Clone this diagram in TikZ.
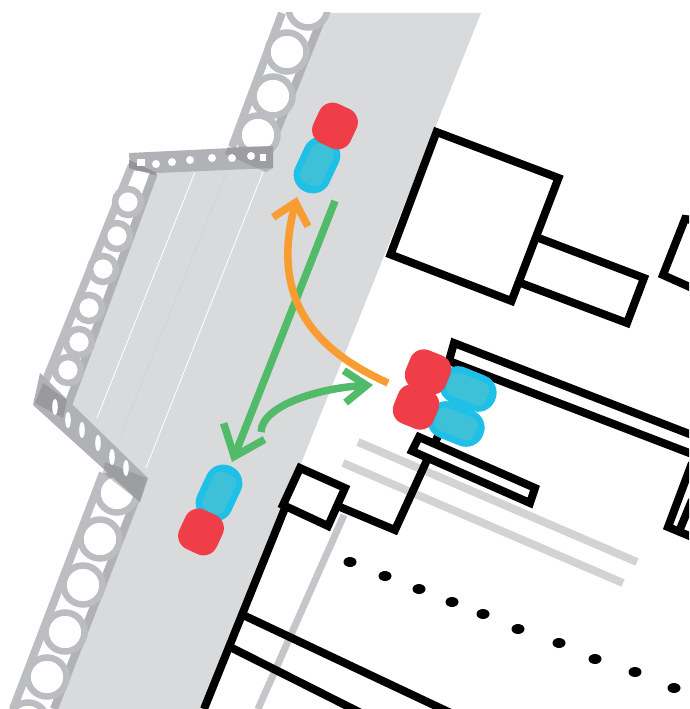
\documentclass[tikz,border=0pt]{standalone}
\usepackage{xcolor}
\usetikzlibrary{arrows.meta}
\usetikzlibrary{shapes.geometric}
\definecolor{roadgrey}{HTML}{D9DADC}
\definecolor{railgrey}{HTML}{BBBDC1}
\definecolor{raildark}{HTML}{B0B2B6}
\definecolor{cornergrey}{HTML}{85878B}
\definecolor{markgrey}{HTML}{D1D3D4}
\definecolor{pathgrey}{HTML}{C5C6CA}
\definecolor{carred}{HTML}{EF3E48}
\definecolor{carblue}{HTML}{1FC0E8}
\definecolor{carglass}{HTML}{3DC1D9}
\definecolor{arrowgreen}{HTML}{52BB6A}
\definecolor{arroworange}{HTML}{F99D33}
\tikzset{
  wall/.style={draw=black,line width=8pt,miter limit=10},
  railedge/.style={draw=railgrey,line width=8pt},
  railedgein/.style={draw=raildark,line width=8pt},
  ring/.style={draw=railgrey,fill=white,line width=6.5pt},
  markline/.style={draw=markgrey,line width=8pt},
  carpart/.style={line join=round,inner sep=0pt,outer sep=0pt},
  carcab/.style={carpart,draw=carred,fill=carred,line width=29pt,minimum width=12pt,minimum height=14pt},
  carbody/.style={carpart,draw=carblue,fill=carblue,line width=36.5pt,minimum width=1pt,minimum height=22pt},
  carglassbox/.style={carpart,draw=carglass,fill=carglass,line width=16pt,minimum width=8pt,minimum height=26pt},
  greenline/.style={draw=arrowgreen,line width=7.5pt},
  orangeline/.style={draw=arroworange,line width=7.5pt},
}
\begin{document}
\begin{tikzpicture}[x=1pt,y=-1pt]
\useasboundingbox (0,0) rectangle (689,709);
\clip (0,13) rectangle (689,709);

\fill[roadgrey] (328,13) -- (481,13) -- (203,709) -- (57,709) -- (147,478) -- (35,395) -- (129,165) -- (273,150) -- cycle;

\draw[white,line width=0.8pt] (195,172) -- (97,418);
\draw[markgrey,line width=0.8pt] (227,172) -- (120,437);
\draw[white,line width=0.8pt] (263,172) -- (146,468);

\fill[white] (278,13) -- (328,13) -- (273,150) -- (228,147) -- cycle;
\draw[railedge] (282,13) -- (232,147);
\draw[railedgein] (324,13) -- (269,150);
\foreach \cx/\cy in {308/8,287/52,273/96,258/135} {
  \draw[ring] (\cx,\cy) circle (19.5);
}

\fill[white] (129,163) -- (158,173) -- (65,405) -- (35,395) -- cycle;
\draw[railedge] (132,165) -- (40,395);
\draw[railedgein] (154,173) -- (68,405);
\foreach \cx/\cy in {128/202,117/236,103/269,89/308,79/342,68/370} {
  \draw[ring] (\cx,\cy) circle (13);
}

\fill[white] (100,473) -- (147,478) -- (57,709) -- (10,709) -- cycle;
\draw[railedge] (103,473) -- (13,709);
\draw[railedgein] (144,478) -- (54,709);
\foreach \cx/\cy in {117/493,100/539,83/585,65/632,47/677,28/722} {
  \draw[ring] (\cx,\cy) circle (19.5);
}

\fill[raildark] (129,153) -- (273,146) -- (273,168) -- (157,173) -- (130,170) -- cycle;
\fill[cornergrey,opacity=0.45] (228,147) -- (273,146) -- (273,168) -- (266,172) -- (225,154) -- cycle;
\fill[cornergrey,opacity=0.7] (129,160) -- (157,173) -- (155,175) -- (129,168) -- cycle;
\foreach \cx/\cy/\rr in {156/164/4,172/162/4,190/160/4,212/158/4,232/158/4,251/156/4} {
  \fill[white] (\cx,\cy) circle (\rr);
}
\fill[white] (137,159) rectangle (145,166);
\fill[white] (260,154) rectangle (266,161);

\fill[raildark] (40,373) -- (33,405) -- (140,502) -- (148,478) -- cycle;
\fill[cornergrey,opacity=0.55] (43,383) -- (67,400) -- (63,418) -- (35,403) -- cycle;
\fill[cornergrey,opacity=0.45] (105,462) -- (147,478) -- (140,502) -- (103,473) -- cycle;
\foreach \cx/\cy in {55/407,68/420,82/430,98/443,112/457,126/468} {
  \fill[white] (\cx,\cy) ellipse (2.8 and 8);
}

\draw[wall] (436.5,132) -- (558.5,178) -- (511.5,301) -- (390.5,254.5) -- cycle;
\draw[wall] (536,237) -- (644,278) -- (627,323) -- (518,282);
\draw[wall] (692,220) -- (685,219) -- (663,275) -- (692,288);
\draw[wall] (692,435) -- (454,343) -- (449,361) -- (692,454);
\draw[wall] (692,463) -- (668,527) -- (692,537);
\draw[wall] (692,500) -- (678,534);
\draw[pathgrey,line width=7pt] (344,515) -- (258,709);
\draw[markline] (358,442) -- (637,562);
\draw[markline] (343,463) -- (623,583);
\draw[wall] (470,366) -- (395,530) -- (340,507);
\draw[wall,fill=white] (419,437) -- (412,451) -- (530,503) -- (535,488) -- cycle;
\draw[wall,fill=white] (300,468) -- (283,505) -- (328,526) -- (345,488) -- cycle;
\draw[wall] (285,508) -- (204,709);
\draw[wall] (243,615) -- (455,715);
\draw[wall] (232,648) -- (365,715);

\foreach \cx/\cy in {350/562,385/576,419/589,452/602,483/614,518/629,559/643,595/659,635/672,674/688} {
  \fill (\cx,\cy) ellipse (6.5 and 5);
}

\node[carbody,rotate=-25] (bodyup) at (317,165) {};
\node[carglassbox,rotate=-25] (glassup) at (317,165) {};
\node[carcab,rotate=-25] (cabup) at (335,126) {};

\node[carbody,rotate=-25] (bodydown) at (219,493) {};
\node[carglassbox,rotate=-25] (glassdown) at (219,493) {};
\node[carcab,rotate=-25] (cabdown) at (201,532) {};

\node[carbody,rotate=68] (bodyone) at (468,389) {};
\node[carglassbox,rotate=68] (glassone) at (468,389) {};
\node[carcab,rotate=68] (cabone) at (428,372) {};

\node[carbody,rotate=68] (bodytwo) at (456,424) {};
\node[carglassbox,rotate=68] (glasstwo) at (456,424) {};
\node[carcab,rotate=68] (cabtwo) at (416,407) {};

\coordinate (greenstart) at (335,201);
\coordinate (greenend) at (232,462);
\coordinate (curvestart) at (261,432);
\coordinate (curveend) at (373,385);
\coordinate (orangestart) at (388,383);
\coordinate (orangeend) at (297,197);

\draw[greenline,-{Straight Barb[length=27pt,width=44pt,line width=7.5pt]}] (greenstart) -- (greenend);
\draw[greenline,-{Straight Barb[length=22pt,width=32pt,line width=7.5pt]}] (curvestart) .. controls (262,405) and (320,388) .. (curveend);
\draw[orangeline,-{Straight Barb[length=20pt,width=36pt,line width=7.5pt]}] (orangestart) .. controls (315,350) and (270,300) .. (orangeend);

\end{tikzpicture}
\end{document}
